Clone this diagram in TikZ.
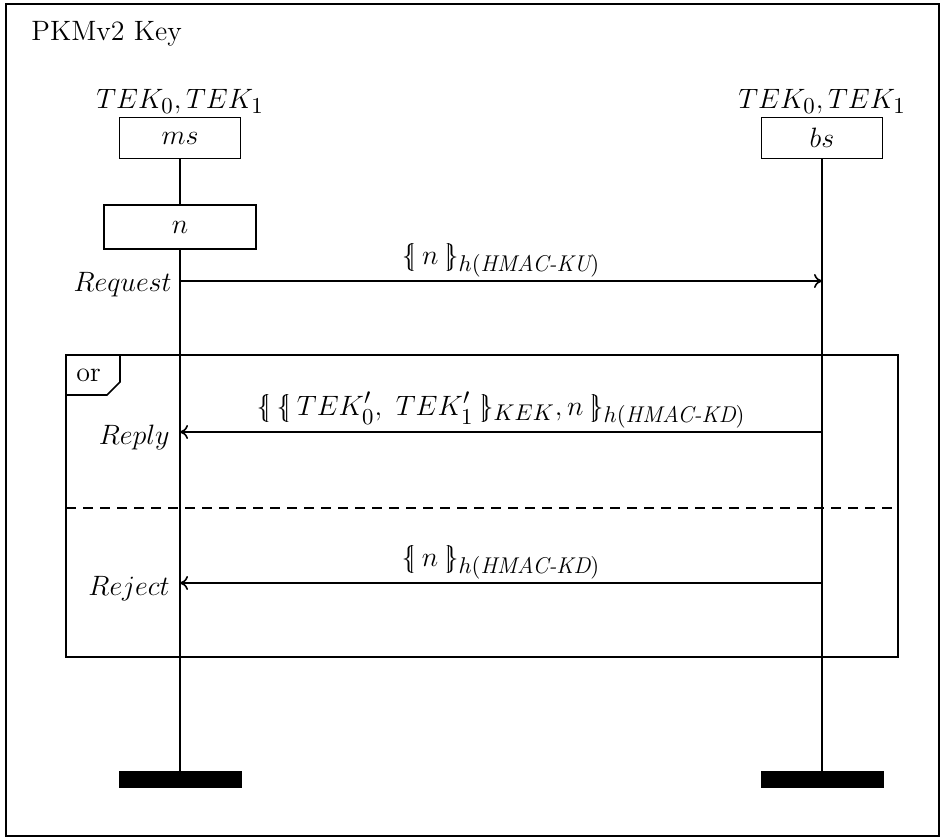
\documentclass[tikz,border=0pt]{standalone}
\usepackage{amsmath}
\usepackage{fix-cm}
\DeclareMathSizes{14}{14}{11.4}{9}
\usetikzlibrary{arrows.meta}
\newcommand{\lbr}{\{\mkern-5mu|\mkern4mu}
\newcommand{\rbr}{\mkern4mu|\mkern-5mu\}}
\tikzset{
  instbox/.style={draw, line width=0.8pt, minimum width=60.5pt, minimum height=20.5pt, inner sep=0pt},
  actbox/.style={draw, line width=0.8pt, minimum width=76pt, minimum height=22pt, inner sep=0pt},
  endbar/.style={fill=black, draw=none, minimum width=61.5pt, minimum height=8.5pt, inner sep=0pt, anchor=north},
  life/.style={line width=0.8pt},
  msg/.style={line width=0.8pt, -{To[length=4pt, width=7pt]}},
  frameline/.style={line width=0.8pt},
  sep/.style={line width=0.8pt, dash pattern=on 5pt off 3.5pt},
  lbl/.style={anchor=east, inner sep=0pt},
  mlbl/.style={anchor=south, inner sep=1.5pt}
}
\begin{document}
\begin{tikzpicture}[x=0.5pt, y=-0.5pt, font=\fontsize{14}{17}\selectfont]
\useasboundingbox (0,0) rectangle (941,838);
\draw[line width=0.9pt] (6,4) rectangle (939,836);
\node[anchor=base west, inner sep=0pt] (title) at (31,41) {PKMv2 Key};

% instances
\node[instbox] (ms) at (180,138) {$ms$};
\node[instbox] (bs) at (822,138) {$bs$};
\node[anchor=south, inner sep=1pt] (mskeys) at (ms.north) {$TEK_0,TEK_1$};
\node[anchor=south, inner sep=1pt] (bskeys) at (bs.north) {$TEK_0,TEK_1$};
\node[actbox] (nact) at (180,227) {$n$};

\coordinate (msend) at (180,771);
\coordinate (bsend) at (822,771);
\draw[life] (ms.south) -- (nact.north);
\draw[life] (nact.south) -- (msend);
\draw[life] (bs.south) -- (bsend);
\node[endbar] (msbar) at (msend) {};
\node[endbar] (bsbar) at (bsend) {};

% request
\coordinate (reqA) at (180,281);
\coordinate (reqB) at (822,281);
\draw[msg] (reqA) -- node[mlbl] (reqlbl) {$\lbr n\rbr_{h(\textit{HMAC-KU})}$} (reqB);
\node[lbl] (reqname) at (172,285) {$Request$};

% or frame
\coordinate (orTL) at (66,355);
\coordinate (orBR) at (898,657);
\draw[frameline] (orTL) rectangle (orBR);
\draw[frameline] (66,395) -- (107,395) -- (120,382) -- (120,355);
\node[anchor=base west, inner sep=0pt] (ortag) at (76,382) {or};
\coordinate (sepL) at (66,508);
\coordinate (sepR) at (898,508);
\draw[sep] (sepL) -- (sepR);

% reply
\coordinate (repA) at (822,432);
\coordinate (repB) at (180,432);
\draw[msg] (repA) -- node[mlbl] (replbl) {$\lbr\lbr TEK'_0,\ TEK'_1\rbr_{KEK}, n\rbr_{h(\textit{HMAC-KD})}$} (repB);
\node[lbl] (repname) at (170,438) {$Reply$};

% reject
\coordinate (rejA) at (822,583);
\coordinate (rejB) at (180,583);
\draw[msg] (rejA) -- node[mlbl] (rejlbl) {$\lbr n\rbr_{h(\textit{HMAC-KD})}$} (rejB);
\node[lbl] (rejname) at (170,589) {$Reject$};
\end{tikzpicture}
\end{document}
